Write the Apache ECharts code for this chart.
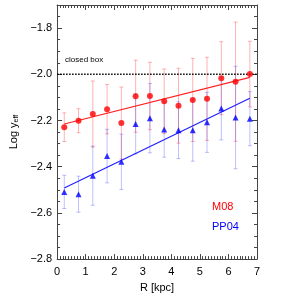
<!DOCTYPE html>
<html><head><meta charset="utf-8">
<script src="https://cdn.jsdelivr.net/npm/echarts@6/dist/echarts.min.js"></script>
<style>html,body{margin:0;padding:0;background:#fff}#c{width:281px;height:298px}</style>
</head><body><div id="c"></div>
<script>
const R = [0.25,0.75,1.25,1.75,2.25,2.75,3.25,3.75,4.25,4.75,5.25,5.75,6.25,6.75];
const m08 = [-2.229,-2.201,-2.172,-2.151,-2.211,-2.095,-2.094,-2.117,-2.136,-2.111,-2.106,-2.017,-2.032,-1.999];
const m08Err = [0.062,0.052,0.143,0.107,0.156,0.156,0.146,0.14,0.162,0.18,0.18,0.158,0.258,0.142];
const pp04 = [-2.509,-2.519,-2.439,-2.354,-2.379,-2.215,-2.19,-2.239,-2.242,-2.242,-2.208,-2.148,-2.187,-2.192];
const pp04Err = [0.072,0.078,0.128,0.116,0.12,0.13,0.15,0.12,0.123,0.134,0.13,0.136,0.222,0.117];
const m08FitX = [0.25,6.75], m08FitY = [-2.215,-2.013];
const pp04FitX = [0.25,6.75], pp04FitY = [-2.492,-2.104];
const closedBoxX = [0,7], closedBoxY = [-2.0,-2.0];
const xTicks = [0,1,2,3,4,5,6,7];
const yTicks = [-2.8,-2.6,-2.4,-2.2,-2.0,-1.8];

const FONT = 'Liberation Sans';
const chart = echarts.init(document.getElementById('c'), null, {renderer:'canvas'});
function errSeries(vals, errs, color){
  return {
    type:'custom', xAxisIndex:0, yAxisIndex:0, z:1,
    data: R.map((x,i)=>[x, vals[i]-errs[i], vals[i]+errs[i]]),
    renderItem(params, api){
      const lo = api.coord([api.value(0), api.value(1)]);
      const hi = api.coord([api.value(0), api.value(2)]);
      const w = 2;
      const st = {stroke: color, lineWidth: 1};
      return {type:'group', children:[
        {type:'line', shape:{x1:lo[0],y1:lo[1],x2:hi[0],y2:hi[1]}, style:st},
        {type:'line', shape:{x1:lo[0]-w,y1:lo[1],x2:lo[0]+w,y2:lo[1]}, style:st},
        {type:'line', shape:{x1:hi[0]-w,y1:hi[1],x2:hi[0]+w,y2:hi[1]}, style:st}
      ]};
    }
  };
}
const fmt = v => (v<0?'\u2212':'') + Math.abs(v).toFixed(1);
const axisCommon = {
  axisLine:{show:true, onZero:false, lineStyle:{color:'#444', width:1}},
  splitLine:{show:false},
  axisTick:{show:true, inside:true, length:5, lineStyle:{color:'#444'}},
};
chart.setOption({
  animation:false,
  grid:{left:45, right:24, top:5, bottom:31},
  xAxis:[
    Object.assign({type:'value', min:0, max:7, interval:1, position:'bottom',
      axisLabel:{show:true, color:'#000', fontFamily:FONT, fontSize:11, margin:7, formatter:v=>xTicks.includes(v)?String(v):''},
      name:'R [kpc]', nameLocation:'middle', nameGap:20,
      nameTextStyle:{color:'#000', fontFamily:FONT, fontSize:11}}, axisCommon,
      {minorTick:{show:true, splitNumber:10, length:3, lineStyle:{color:'#444'}}}),
    Object.assign({type:'value', min:0, max:7, interval:1, position:'top', axisLabel:{show:false}}, axisCommon,
      {minorTick:{show:true, splitNumber:10, length:3, lineStyle:{color:'#444'}}})
  ],
  yAxis:[
    Object.assign({type:'value', min:-2.8, max:-1.7, interval:0.2, position:'left',
      axisLabel:{show:true, showMaxLabel:false, color:'#000', fontFamily:FONT, fontSize:11, margin:5,
        formatter:v=>yTicks.some(t=>Math.abs(t-v)<1e-6)?fmt(v):''},
      name:'{a|Log y}{s|eff}', nameLocation:'middle', nameGap:33, nameRotate:90,
      nameTextStyle:{color:'#000', fontFamily:FONT, fontSize:11,
        rich:{a:{fontFamily:FONT, fontSize:11, color:'#000'}, s:{fontFamily:FONT, fontSize:7, color:'#000', padding:[5,0,0,0]}}}}, axisCommon,
      {minorTick:{show:true, splitNumber:4, length:3, lineStyle:{color:'#444'}}}),
    Object.assign({type:'value', min:-2.8, max:-1.7, interval:0.2, position:'right', axisLabel:{show:false}}, axisCommon,
      {minorTick:{show:true, splitNumber:4, length:3, lineStyle:{color:'#444'}}})
  ],
  series:[
    errSeries(m08, m08Err, 'rgba(255,0,0,0.3)'),
    errSeries(pp04, pp04Err, 'rgba(0,0,255,0.25)'),
    {type:'line', data: closedBoxX.map((x,i)=>[x, closedBoxY[i]]), symbol:'none', z:3,
      lineStyle:{color:'#000', width:1.5, type:[1.5,1.5]}},
    {type:'line', data: m08FitX.map((x,i)=>[x, m08FitY[i]]), symbol:'none', z:3, lineStyle:{color:'#ff2020', width:1.2}},
    {type:'line', data: pp04FitX.map((x,i)=>[x, pp04FitY[i]]), symbol:'none', z:3, lineStyle:{color:'#2020ff', width:1.2}},
    {type:'scatter', data: R.map((x,i)=>[x, m08[i]]), symbol:'circle', symbolSize:6, z:4, itemStyle:{color:'#ff0000'}},
    {type:'scatter', data: R.map((x,i)=>[x, pp04[i]]), symbol:'triangle', symbolSize:6, z:4, itemStyle:{color:'#0000ff'}}
  ],
  graphic:[
    {type:'text', left:65, top:56, style:{text:'closed box', fill:'#000', font:'8px "Liberation Sans"'}},
    {type:'text', left:212, top:201, style:{text:'M08', fill:'#ff0000', font:'11px "Liberation Sans"'}},
    {type:'text', left:212, top:221, style:{text:'PP04', fill:'#0000ff', font:'11px "Liberation Sans"'}}
  ]
});
</script></body></html>
